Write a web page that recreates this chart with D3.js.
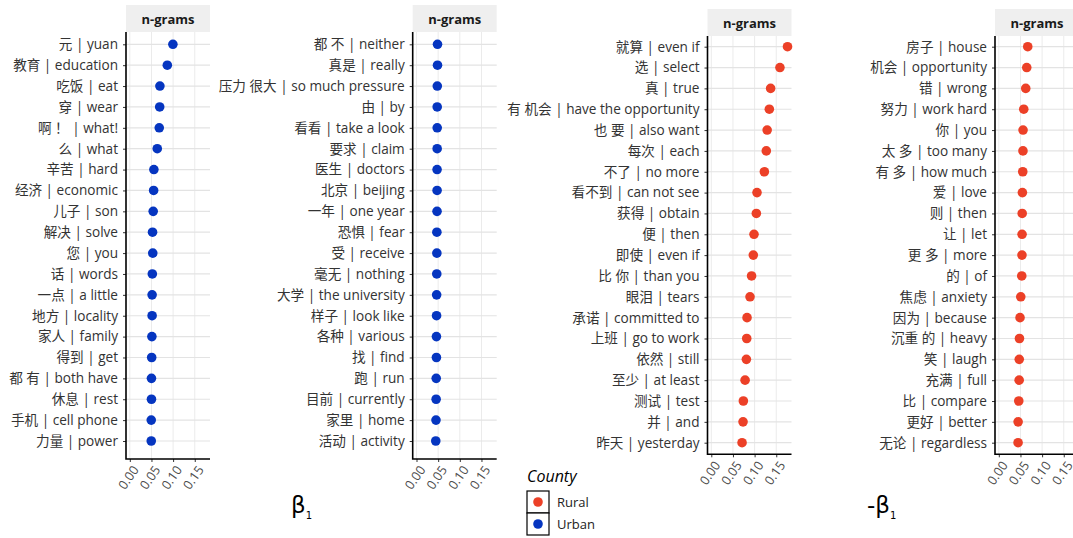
<!DOCTYPE html>
<html>
<head>
<meta charset="utf-8">
<script src="https://cdn.jsdelivr.net/npm/d3@7"></script>
<style>
  body { margin: 0; background: #fff; }
  svg { display: block; }
  text { font-family: "Open Sans", "Noto Sans CJK SC", sans-serif; }
</style>
</head>
<body>
<div id="chart"></div>
<script>
// n-gram labels (top to bottom) and their beta values, one pair per panel
const urbanLabelsA = ['元 | yuan', '教育 | education', '吃饭 | eat', '穿 | wear', '啊 ！ | what!', '么 | what',
  '辛苦 | hard', '经济 | economic', '儿子 | son', '解决 | solve', '您 | you', '话 | words', '一点 | a little',
  '地方 | locality', '家人 | family', '得到 | get', '都 有 | both have', '休息 | rest', '手机 | cell phone', '力量 | power'];
const urbanValuesA = [0.0995, 0.0866, 0.0695, 0.069, 0.068, 0.0634, 0.0556, 0.055, 0.054, 0.0525,
  0.053, 0.052, 0.0515, 0.0515, 0.051, 0.0505, 0.050, 0.050, 0.0495, 0.0495];

const urbanLabelsB = ['都 不 | neither', '真是 | really', '压力 很大 | so much pressure', '由 | by', '看看 | take a look',
  '要求 | claim', '医生 | doctors', '北京 | beijing', '一年 | one year', '恐惧 | fear', '受 | receive', '毫无 | nothing',
  '大学 | the university', '样子 | look like', '各种 | various', '找 | find', '跑 | run', '目前 | currently',
  '家里 | home', '活动 | activity'];
const urbanValuesB = [0.0485, 0.0485, 0.048, 0.0478, 0.0478, 0.0477, 0.0475, 0.0475, 0.0474, 0.047,
  0.047, 0.0468, 0.0465, 0.0463, 0.046, 0.046, 0.0455, 0.0453, 0.045, 0.0445];

const ruralLabelsA = ['就算 | even if', '选 | select', '真 | true', '有 机会 | have the opportunity', '也 要 | also want',
  '每次 | each', '不了 | no more', '看不到 | can not see', '获得 | obtain', '便 | then', '即使 | even if',
  '比 你 | than you', '眼泪 | tears', '承诺 | committed to', '上班 | go to work', '依然 | still', '至少 | at least',
  '测试 | test', '并 | and', '昨天 | yesterday'];
const ruralValuesA = [0.176, 0.1585, 0.137, 0.134, 0.129, 0.127, 0.1225, 0.1055, 0.104, 0.0986,
  0.097, 0.093, 0.0894, 0.0825, 0.0818, 0.081, 0.078, 0.074, 0.0733, 0.071];

const ruralLabelsB = ['房子 | house', '机会 | opportunity', '错 | wrong', '努力 | work hard', '你 | you', '太 多 | too many',
  '有 多 | how much', '爱 | love', '则 | then', '让 | let', '更 多 | more', '的 | of', '焦虑 | anxiety',
  '因为 | because', '沉重 的 | heavy', '笑 | laugh', '充满 | full', '比 | compare', '更好 | better', '无论 | regardless'];
const ruralValuesB = [0.0668, 0.0645, 0.0622, 0.0576, 0.056, 0.0558, 0.0553, 0.0545, 0.054, 0.0537,
  0.0535, 0.053, 0.0507, 0.049, 0.0477, 0.0472, 0.047, 0.0461, 0.0446, 0.0445];

const xTicks = [0, 0.05, 0.10, 0.15];
const countyNames = ['Rural', 'Urban'];
const countyColors = { Rural: '#ec4027', Urban: '#0535c0' };

const W = 1073, H = 538;
const svg = d3.select('#chart').append('svg').attr('width', W).attr('height', H);

// panel frames (layout only)
const panels = [
  { labels: urbanLabelsA, values: urbanValuesA, county: 'Urban', left: 126, top: 32, bottom: 459, rowTop: 44.3, rowBottom: 441 },
  { labels: urbanLabelsB, values: urbanValuesB, county: 'Urban', left: 412.7, top: 32, bottom: 459, rowTop: 44.3, rowBottom: 441 },
  { labels: ruralLabelsA, values: ruralValuesA, county: 'Rural', left: 707.5, top: 36, bottom: 454.3, rowTop: 46.7, rowBottom: 442.7 },
  { labels: ruralLabelsB, values: ruralValuesB, county: 'Rural', left: 995, top: 36, bottom: 454.3, rowTop: 46.7, rowBottom: 442.7 }
];
const panelW = 84, stripH = 27;

panels.forEach(p => {
  const x = d3.scaleLinear().domain([-0.0088, 0.1852]).range([p.left, p.left + panelW]);
  const y = d3.scalePoint().domain(p.labels).range([p.rowTop, p.rowBottom]);
  const g = svg.append('g');

  // strip
  g.append('rect')
    .attr('x', p.left).attr('y', p.top - stripH)
    .attr('width', panelW).attr('height', stripH)
    .attr('fill', '#efefef');
  g.append('text')
    .attr('x', p.left + panelW / 2).attr('y', p.top - stripH / 2 + 5)
    .attr('text-anchor', 'middle')
    .attr('font-size', 13).attr('font-weight', 'bold').attr('fill', '#1a1a1a')
    .text('n-grams');

  // grid
  g.append('g').selectAll('line.v').data(xTicks).join('line')
    .attr('x1', d => x(d)).attr('x2', d => x(d))
    .attr('y1', p.top).attr('y2', p.bottom)
    .attr('stroke', '#ebebeb').attr('stroke-width', 1);
  g.append('g').selectAll('line.h').data(p.labels).join('line')
    .attr('x1', p.left).attr('x2', p.left + panelW)
    .attr('y1', d => y(d)).attr('y2', d => y(d))
    .attr('stroke', '#e3e3e3').attr('stroke-width', 1.2);

  // y axis
  const yAxis = g.append('g').attr('transform', `translate(${p.left},0)`)
    .call(d3.axisLeft(y).tickSize(3).tickPadding(5));
  yAxis.select('.domain').remove();
  yAxis.selectAll('.tick line').attr('stroke', '#333');
  yAxis.selectAll('.tick text')
    .attr('font-size', 13.6).attr('fill', '#333')
    .style('font-family', '"Open Sans", "Noto Sans CJK SC", sans-serif');

  // x axis
  const xAxis = g.append('g').attr('transform', `translate(0,${p.bottom})`)
    .call(d3.axisBottom(x).tickValues(xTicks).tickFormat(d3.format('.2f')).tickSize(3).tickPadding(2));
  xAxis.select('.domain').remove();
  xAxis.selectAll('.tick line').attr('stroke', '#333');
  xAxis.selectAll('.tick text')
    .attr('font-size', 12.8).attr('fill', '#4d4d4d')
    .attr('text-anchor', 'end')
    .attr('dy', null).attr('y', 0)
    .attr('transform', 'translate(5,8) rotate(-55)')
    .attr('dominant-baseline', 'central');

  // axis lines
  g.append('path')
    .attr('d', `M${p.left},${p.top}V${p.bottom}H${p.left + panelW}`)
    .attr('fill', 'none').attr('stroke', '#000').attr('stroke-width', 1.6);

  // points
  g.append('g').selectAll('circle').data(p.labels).join('circle')
    .attr('cx', (d, i) => x(p.values[i]))
    .attr('cy', d => y(d))
    .attr('r', 4.8)
    .attr('fill', countyColors[p.county]);
});

// axis titles
function betaLabel(xPos, prefix) {
  const t = svg.append('text').attr('x', xPos).attr('y', 513)
    .attr('font-size', 23).attr('fill', '#000')
    .style('font-family', '"DejaVu Sans", sans-serif');
  t.append('tspan').text(prefix + 'β');
  t.append('tspan').attr('font-size', 10).attr('dy', 6).text('1');
}
betaLabel(291, '');
betaLabel(867, '-');

// legend
const leg = svg.append('g').attr('transform', 'translate(527,0)');
leg.append('text').attr('x', 0).attr('y', 482)
  .attr('font-size', 16).attr('font-style', 'italic').attr('fill', '#000')
  .text('County');
countyNames.forEach((c, i) => {
  const yy = 491 + i * 22;
  leg.append('rect').attr('x', 0).attr('y', yy).attr('width', 22).attr('height', 22)
    .attr('fill', '#fff').attr('stroke', '#000').attr('stroke-width', 1.2);
  leg.append('circle').attr('cx', 11).attr('cy', yy + 11).attr('r', 4.8).attr('fill', countyColors[c]);
  leg.append('text').attr('x', 30).attr('y', yy + 16).attr('font-size', 13).attr('fill', '#222').text(c);
});
</script>
</body>
</html>
